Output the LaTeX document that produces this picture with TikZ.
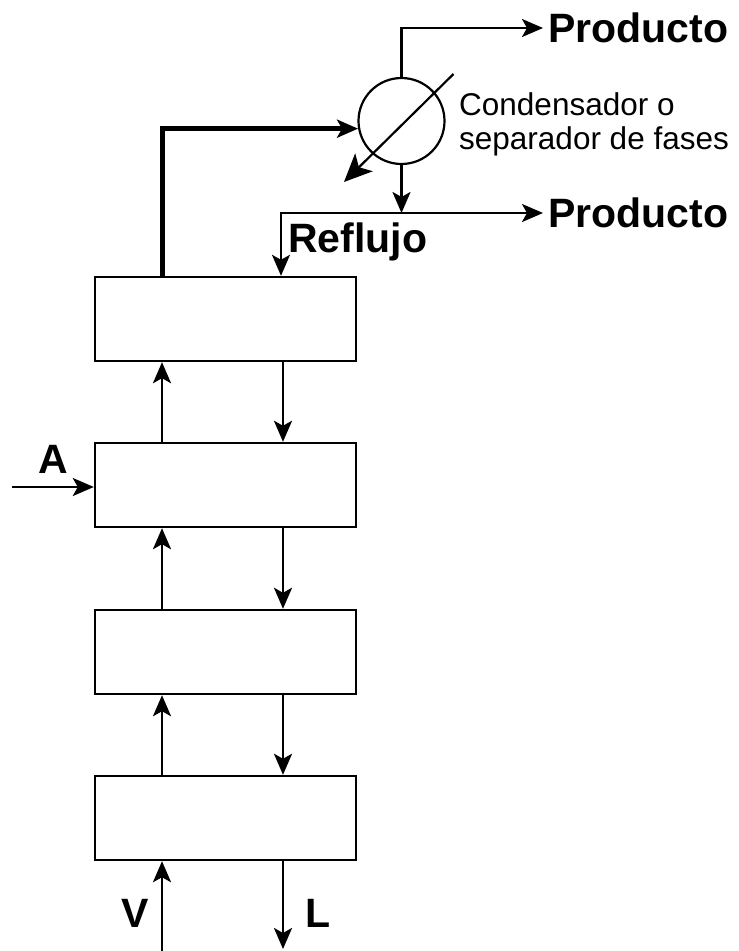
\documentclass[tikz,border=0pt]{standalone}
\usepackage{fontspec}
\setmainfont{Liberation Sans}
\usetikzlibrary{arrows.meta}

\tikzset{
  plato/.style={draw, line width=2.4pt, minimum width=261pt, minimum height=84pt, inner sep=0pt},
  flujo/.style={line width=2.8pt},
  linea/.style={line width=2.2pt},
  etiqueta/.style={font=\fontsize{41}{49}\selectfont\bfseries, inner sep=0pt},
}

\begin{document}
\begin{tikzpicture}[x=1pt,y=-1pt,>={Stealth[length=21pt,width=18pt,inset=5pt]}]
  \useasboundingbox (0,0) rectangle (739,951);

  % Plates
  \node[plato] (p1) at (225.5,319) {};
  \node[plato] (p2) at (225.5,485) {};
  \node[plato] (p3) at (225.5,652) {};
  \node[plato] (p4) at (225.5,818) {};

  % Vapour goes up, liquid comes down
  \foreach \a/\b in {p1/p2,p2/p3,p3/p4} {
    \draw[flujo,->] ([xshift=-63.5]\b.north) -- ([xshift=-63.5]\a.south);
    \draw[flujo,->] ([xshift=57.5]\a.south) -- ([xshift=57.5]\b.north);
  }

  % Feed
  \coordinate (alim) at (12,487);
  \draw[flujo,->] (alim) -- (alim -| p2.west);
  \node[etiqueta, anchor=base] (A) at (53.5,473) {A};

  % Bottom streams
  \coordinate (vin) at (162,951);
  \coordinate (lout) at (283,949);
  \draw[flujo,->] (vin) -- (vin |- p4.south);
  \draw[flujo,->] (lout |- p4.south) -- (lout);
  \node[etiqueta, anchor=base] (V) at (135.5,927) {V};
  \node[etiqueta, anchor=base] (L) at (318.5,927) {L};

  % Condenser
  \node[draw, circle, linea, minimum size=86pt, inner sep=0pt] (cond) at (401.5,121) {};
  \draw[linea, -{Stealth[length=28pt,width=25pt,inset=7pt]}]
    ([shift={(52,-47)}]cond.center) -- ([shift={(-57.5,61)}]cond.center);
  \draw[line width=5pt, ->] ([xshift=-63.5]p1.north) |- (cond.190);
  \node[anchor=north west, inner sep=0pt, align=left, font=\fontsize{31.5}{34}\selectfont]
    (rotulo) at (459,92) {Condensador o\\separador de fases};

  % Products and reflux
  \node[etiqueta, anchor=west, inner xsep=5pt] (prod1) at (543,28) {Producto};
  \node[etiqueta, anchor=west, inner xsep=5pt] (prod2) at (543,213) {Producto};
  \draw[linea,->] (cond.north) |- (prod1.west);
  \coordinate (div) at (401.5,213);
  \draw[flujo,->] (cond.south) -- (div);
  \draw[linea,->] (div) -- (prod2.west);
  \draw[linea,->] (div) -| ([xshift=55.5]p1.north);
  \node[etiqueta, anchor=base west] (reflujo) at (288,252) {Reflujo};
\end{tikzpicture}
\end{document}
